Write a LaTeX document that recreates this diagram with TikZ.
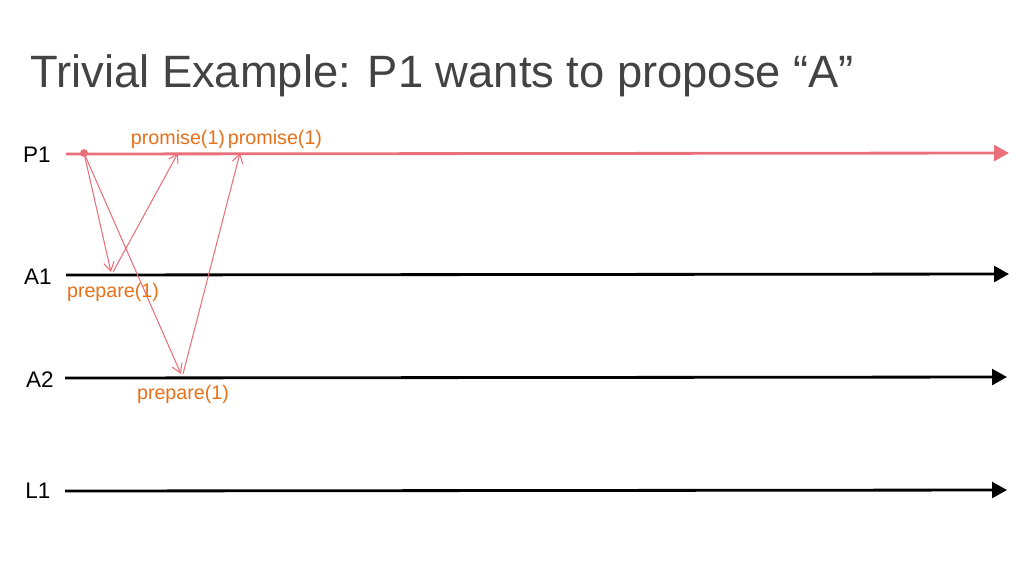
\documentclass[tikz,border=0pt]{standalone}
\usepackage{fontspec}
\setmainfont{Liberation Sans}
\usetikzlibrary{arrows.meta}
\definecolor{lanered}{RGB}{233,112,122}
\definecolor{msgorange}{RGB}{232,112,24}
\definecolor{titlegray}{RGB}{67,67,67}
\begin{document}
\begin{tikzpicture}[x=0.02cm,y=-0.02cm]
		\tikzstyle{lane}=[line width=1.6pt,-{Triangle[length=8.5pt,width=9pt]}]
		\tikzstyle{lanelabel}=[font=\fontsize{12.8}{15}\selectfont,inner sep=0pt]
		\tikzstyle{msg}=[lanered,line width=0.6pt,-{Straight Barb[length=5pt,width=6pt]}]
		\tikzstyle{msglabel}=[msgorange,font=\fontsize{11.2}{13}\selectfont,inner sep=0pt]
		\useasboundingbox (0,0) rectangle (1024,576);
		\node[titlegray,anchor=base west,inner sep=0pt,font=\fontsize{25.8}{30}\selectfont] (title) at (30,87) {Trivial Example: P1 wants to propose “A”};
		\node[lanelabel] (l_p1) at (37,155) {P1};
		\node[lanelabel] (l_a1) at (38,277) {A1};
		\node[lanelabel] (l_a2) at (40,380) {A2};
		\node[lanelabel] (l_l1) at (38,491) {L1};
		\coordinate (p1_s) at (66,154);
		\coordinate (p1_e) at (1009,153);
		\coordinate (a1_s) at (66,275);
		\coordinate (a1_e) at (1009,274);
		\coordinate (a2_s) at (65,378);
		\coordinate (a2_e) at (1007,377);
		\coordinate (l1_s) at (65,491);
		\coordinate (l1_e) at (1007,490);
		\draw[lane,lanered] (p1_s) -- (p1_e);
		\draw[lane] (a1_s) -- (a1_e);
		\draw[lane] (a2_s) -- (a2_e);
		\draw[lane] (l1_s) -- (l1_e);
		\node[circle,fill=lanered,minimum size=4.5pt,inner sep=0pt] (start) at (84,153) {};
		\coordinate (a1_in) at (111,272);
		\coordinate (a1_out) at (113,272);
		\coordinate (a2_in) at (181,374);
		\coordinate (a2_out) at (183,374);
		\coordinate (p1_in1) at (178,153);
		\coordinate (p1_in2) at (240,153);
		\draw[msg] (start.center) -- (a1_in);
		\draw[msg] (start.center) -- (a2_in);
		\draw[msg] (a1_out) -- (p1_in1);
		\draw[msg] (a2_out) -- (p1_in2);
		\node[msglabel] (prom_1) at (178,139) {promise(1)};
		\node[msglabel] (prom_2) at (275,139) {promise(1)};
		\node[msglabel] (prep_1) at (113,292) {prepare(1)};
		\node[msglabel] (prep_2) at (183,394) {prepare(1)};
	\end{tikzpicture}
\end{document}
